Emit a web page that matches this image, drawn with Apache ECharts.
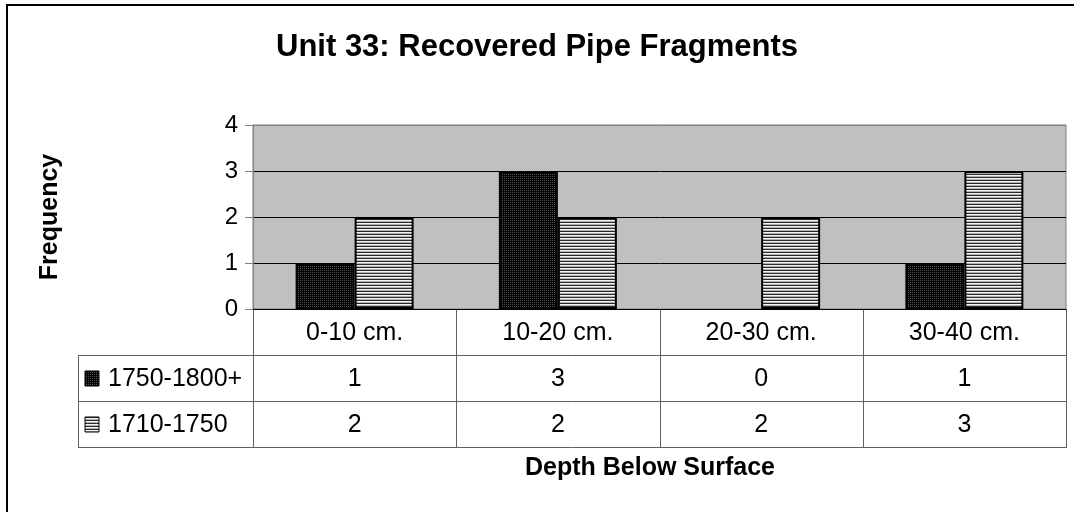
<!DOCTYPE html>
<html><head><meta charset="utf-8">
<script src="https://cdn.jsdelivr.net/npm/echarts@6/dist/echarts.min.js"></script>
<style>html,body{margin:0;padding:0;background:#fff}#c{width:1074px;height:512px}</style>
</head><body><div id="c"></div>
<script>
const chartTitle = 'Unit 33: Recovered Pipe Fragments';
const categories = ['0-10 cm.', '10-20 cm.', '20-30 cm.', '30-40 cm.'];
const seriesNames = ['1750-1800+', '1710-1750'];
const seriesLate = [1, 3, 0, 1];
const seriesEarly = [2, 2, 2, 3];
const yAxisName = 'Frequency';
const xAxisName = 'Depth Below Surface';

const FONT = '"Liberation Sans", Arial, sans-serif';
function makePattern(w, h, draw) {
  const c = document.createElement('canvas'); c.width = w; c.height = h;
  draw(c.getContext('2d')); return c;
}
const darkPat = makePattern(2, 2, g => { g.fillStyle = '#000'; g.fillRect(0,0,2,2); g.fillStyle = '#555'; g.fillRect(0,0,1,1); });
const stripePat = makePattern(4, 3, g => {
  g.fillStyle = '#2a2a2a'; g.fillRect(0,0,4,1);
  g.fillStyle = '#f4f4f4'; g.fillRect(0,1,4,1);
  g.fillStyle = '#b0b0b0'; g.fillRect(0,2,4,1);
});
const fills = [{image: darkPat, repeat: 'repeat'}, {image: stripePat, repeat: 'repeat'}];
const seriesData = [seriesLate, seriesEarly];

const chart = echarts.init(document.getElementById('c'), null, {renderer: 'canvas'});
chart.setOption({
  animation: false,
  backgroundColor: '#fff',
  title: {text: chartTitle, left: 'center', top: 27,
    textStyle: {fontFamily: FONT, fontSize: 31, fontWeight: 'bold', color: '#000'}},
  grid: {left: 253, top: 125, right: 8, bottom: 203, show: true,
    backgroundColor: '#c0c0c0', borderColor: '#808080', borderWidth: 1},
  xAxis: {type: 'category', data: categories,
    axisLine: {lineStyle: {color: '#000', width: 1}},
    axisTick: {show: false}, axisLabel: {show: false}},
  yAxis: {type: 'value', min: 0, max: 4, interval: 1,
    axisLine: {show: true, lineStyle: {color: '#808080'}},
    axisTick: {show: true, length: 8, lineStyle: {color: '#808080'}},
    axisLabel: {fontFamily: FONT, fontSize: 24, color: '#000', margin: 15},
    splitLine: {lineStyle: {color: ['#000', '#000', '#000', '#000', '#808080'], width: 1}}},
  series: seriesNames.map((n, i) => ({
    name: n, type: 'bar', barWidth: 59, barGap: '0%',
    data: seriesData[i].map(v => v === 0 ? {value: v, itemStyle: {borderWidth: 0}} : v),
    itemStyle: {color: fills[i], borderColor: '#000', borderWidth: 2}
  }))
});

const xs = categories.map(c => chart.convertToPixel({xAxisIndex: 0}, c));
const band = xs[1] - xs[0];
const y0 = chart.convertToPixel({yAxisIndex: 0}, 0);
const yTop = chart.convertToPixel({yAxisIndex: 0}, 4);
const left = xs[0] - band / 2, right = xs[xs.length - 1] + band / 2;
const ROW_H = 46, TABLE_LEFT = 78;
const LINE = '#606060';
const g = [];
const txt = (text, x, y, align, extra) => ({type: 'text', silent: true, style: Object.assign({
  text, x, y, align: align || 'center', verticalAlign: 'middle', fill: '#000',
  font: '25px ' + FONT}, extra || {})});
const line = (x1, y1, x2, y2, stroke, w) => ({type: 'line', silent: true,
  shape: {x1, y1, x2, y2}, style: {stroke: stroke || LINE, lineWidth: w || 1}});
const yEnd = y0 + ROW_H * 3;
for (let i = 0; i <= categories.length; i++) {
  const x = Math.round(left + band * i) + 0.5;
  g.push(line(x, y0, x, yEnd));
}
g.push(line(TABLE_LEFT + 0.5, y0 + ROW_H, TABLE_LEFT + 0.5, yEnd));
for (let r = 1; r <= 3; r++) {
  const y = Math.round(y0 + ROW_H * r) + 0.5;
  g.push(line(TABLE_LEFT, y, Math.round(right) + 1, y));
}
categories.forEach((c, i) => g.push(txt(c, xs[i], y0 + ROW_H / 2 + 1)));
seriesData.forEach((arr, r) => {
  const cy = y0 + ROW_H * (r + 1) + ROW_H / 2 + 1;
  arr.forEach((v, i) => g.push(txt(String(v), xs[i], cy)));
  g.push({type: 'rect', silent: true, shape: {x: 85, y: Math.round(cy - 8), width: 14, height: 15},
    style: {fill: fills[r], stroke: '#000', lineWidth: 1}});
  g.push(txt(seriesNames[r], 108, cy, 'left'));
});
const yName = txt(yAxisName, 0, 0, 'center', {font: 'bold 25px ' + FONT});
yName.rotation = Math.PI / 2; yName.x = 50; yName.y = (y0 + yTop) / 2;
g.push(yName);
g.push(txt(xAxisName, 650, yEnd + 21, 'center', {font: 'bold 25px ' + FONT}));
g.push({type: 'rect', silent: true, shape: {x: 7, y: 5, width: 1200, height: 700},
  style: {fill: 'none', stroke: '#000', lineWidth: 2}});
chart.setOption({graphic: g});
</script></body></html>
